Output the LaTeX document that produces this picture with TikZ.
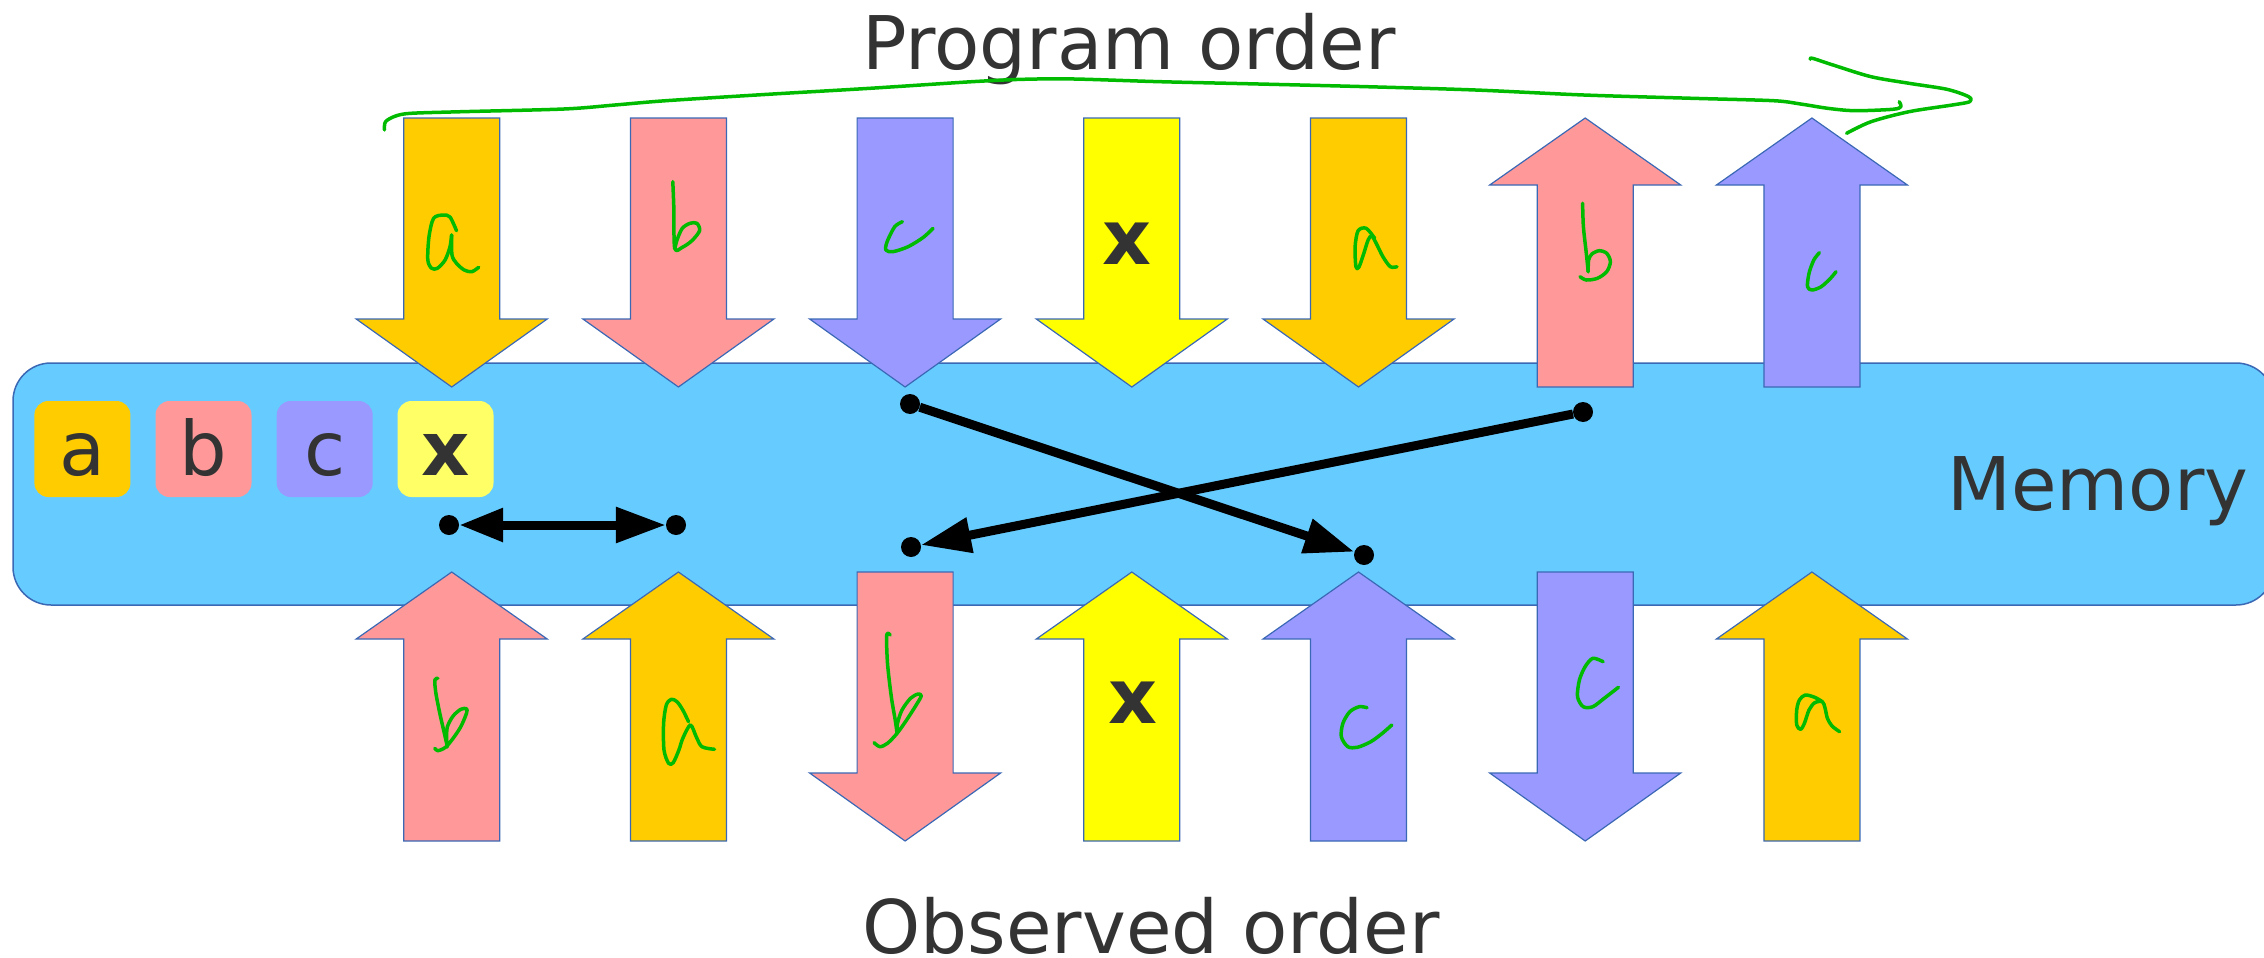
\documentclass[tikz,border=0pt]{standalone}
\usepackage{fontspec}
\setmainfont{DejaVu Sans}
\usetikzlibrary{arrows.meta}
\definecolor{ca}{HTML}{FFCC00}
\definecolor{cb}{HTML}{FF9999}
\definecolor{cc}{HTML}{9999FF}
\definecolor{cx}{HTML}{FFFF00}
\definecolor{cxl}{HTML}{FFFF66}
\definecolor{mem}{HTML}{66CCFF}
\definecolor{edge}{HTML}{3B68B5}
\definecolor{ink}{HTML}{333333}
\definecolor{pen}{HTML}{00BB00}

\begin{document}
\begin{tikzpicture}[
  x=1pt, y=-1pt,
  bigtext/.style={text=ink, font=\fontsize{74}{80}\selectfont, inner sep=0pt},
  boldx/.style={text=ink, font=\fontsize{76}{80}\selectfont\bfseries, inner sep=0pt},
  arrowbox/.style={draw=edge, line width=1.2pt, line join=miter},
  keybox/.style={minimum size=96pt, inner sep=0pt, rounded corners=14pt,
                 text=ink, font=\fontsize{75}{80}\selectfont,
                 text height=52pt, text depth=0pt},
  dot/.style={circle, fill=black, inner sep=0pt, minimum size=20pt},
  conn/.style={line width=9pt, draw=black},
  tip/.style={-{Triangle[length=50pt,width=34pt]}},
  hand/.style={draw=pen, line width=3.5pt, line cap=round, line join=round},
  downarr/.pic={\path[pic actions] (-48,0) -- (48,0) -- (48,201) -- (95.5,201)
                 -- (0,269) -- (-95.5,201) -- (-48,201) -- cycle;},
  uparr/.pic={\path[pic actions] (0,0) -- (95.5,67) -- (48,67) -- (48,269)
                 -- (-48,269) -- (-48,67) -- (-95.5,67) -- cycle;},
]
\useasboundingbox (0,0) rectangle (2264,958);
\clip (0,0) rectangle (2264,958);

% memory band
\draw[draw=edge, line width=1.5pt, fill=mem, rounded corners=38pt]
  (13,363) rectangle (2274,605);
\node[bigtext, anchor=base] (memlabel) at (2098,510) {Memory};

% legend
\node[keybox, fill=ca] (ka) at (82.4,449) {a};
\node[keybox, fill=cb] (kb) at (203.5,449) {b};
\node[keybox, fill=cc] (kc) at (324.7,449) {c};
\node[keybox, fill=cxl, font=\fontsize{75}{80}\selectfont\bfseries] (kx) at (445.5,449) {x};

% titles
\node[bigtext, anchor=base] (prog) at (1129,70) {Program order};
\node[bigtext, anchor=base] (obs) at (1151,953) {Observed order};

% program order row
\pic[arrowbox, fill=ca] at (451.7,118) {downarr};
\pic[arrowbox, fill=cb] at (678.4,118) {downarr};
\pic[arrowbox, fill=cc] at (905.1,118) {downarr};
\pic[arrowbox, fill=cx] at (1131.8,118) {downarr};
\pic[arrowbox, fill=ca] at (1358.5,118) {downarr};
\pic[arrowbox, fill=cb] at (1585.2,118) {uparr};
\pic[arrowbox, fill=cc] at (1811.9,118) {uparr};

% observed order row
\pic[arrowbox, fill=cb] at (451.7,572) {uparr};
\pic[arrowbox, fill=ca] at (678.4,572) {uparr};
\pic[arrowbox, fill=cb] at (905.1,572) {downarr};
\pic[arrowbox, fill=cx] at (1131.8,572) {uparr};
\pic[arrowbox, fill=cc] at (1358.5,572) {uparr};
\pic[arrowbox, fill=cc] at (1585.2,572) {downarr};
\pic[arrowbox, fill=ca] at (1811.9,572) {uparr};

\node[boldx, anchor=base] (xtop) at (1127,264) {x};
\node[boldx, anchor=base] (xbot) at (1133,723) {x};

% reordering links
\node[dot] (p1) at (449,525) {};
\node[dot] (p2) at (676,525) {};
\node[dot] (q1) at (910,404) {};
\node[dot] (q2) at (1364,555) {};
\node[dot] (r1) at (1583,412) {};
\node[dot] (r2) at (911,547) {};
\draw[conn, {Triangle[length=44pt,width=32pt]}-{Triangle[length=50pt,width=34pt]}] (p1) -- (p2);
\draw[conn, tip] (q1) -- (q2);
\draw[conn, tip] (r1) -- (r2);

% hand-written program order sweep
\draw[hand] plot[smooth, tension=0.5] coordinates {
  (384.5,130) (385.5,121.7) (395.7,116) (411,113.3) (462,111.7) (564,109)
  (615,105) (666,100.7) (768,94.3) (870,88.3) (972,81.7) (1023,79.3)
  (1074,79) (1160,81.7) (1258.4,84) (1366.8,86.7) (1475.3,90) (1583.7,95)
  (1692.1,98.3) (1773.4,100.7) (1800.5,104) (1827.6,108.3) (1854.7,110.7)
  (1892.7,109.3) (1900.8,106.7) (1899.2,101.7)};
\draw[hand] plot[smooth, tension=0.5] coordinates {
  (1810.3,59.3) (1812.5,58.3) (1833,65) (1871,76.7) (1909,83.3)
  (1946.9,89.3) (1968.6,96.7) (1969.7,101.7) (1952.3,105) (1909,111.7)
  (1871,121.7) (1846.6,133.3)};

% hand-written letters, program order row
\draw[hand] plot[smooth, tension=0.5] coordinates {
  (456.5,230.7) (450,217) (443.1,215) (433.6,218.3) (429,236.7) (427.8,260)
  (431.7,268.3) (437.4,268.3) (445.1,260) (450,246.7) (451.6,235)};
\draw[hand] plot[smooth, tension=0.5] coordinates {
  (451.6,235) (452,255) (456.5,263.3) (464.2,270) (471.8,271.7) (478.7,267.3)};
\draw[hand] plot[smooth, tension=0.5] coordinates {
  (672.8,181.7) (673.9,210) (674.7,248.3) (682.3,247.3) (691.9,240.7)
  (699.6,230.7) (696.9,223.3) (690,223.3) (682.3,228.3) (677,240) (674.7,249.3)};
\draw[hand] plot[smooth, tension=0.5] coordinates {
  (902.4,221.7) (894.7,226.7) (887.1,241.7) (885.9,250) (892.8,251.7)
  (908.1,246.7) (923.4,237.3) (933,228.3)};
\draw[hand] plot[smooth, tension=0.5] coordinates {
  (1374.7,238.3) (1366.2,228.3) (1358.1,230.7) (1355.1,246.7) (1355.9,266.7)
  (1358.8,267.3) (1363.3,255) (1368.1,240) (1371.8,236) (1376.2,243.3)
  (1382.9,256.7) (1390.3,266.7) (1397,266.7)};
\draw[hand] plot[smooth, tension=0.5] coordinates {
  (1582.6,203.3) (1583.4,226.7) (1586.3,253.3) (1588.2,271.7)};
\draw[hand] plot[smooth, tension=0.5] coordinates {
  (1580,276.7) (1586.3,280) (1597.4,278.3) (1606.7,271.7) (1610.4,261.7)
  (1606.7,253.3) (1599.3,250.7) (1591.9,254) (1588.6,260) (1588.2,271.7)};
\draw[hand] plot[smooth, tension=0.5] coordinates {
  (1819.4,252.7) (1813.8,260) (1809,273.3) (1807.5,286.7) (1812,290)
  (1821.2,286.7) (1830.5,278.3) (1836,271.7)};

% hand-written letters, observed order row
\draw[hand] plot[smooth, tension=0.5] coordinates {
  (437.8,678.3) (434.8,680) (435.9,693.3) (439.8,713.3) (443.6,730) (447.4,746.7)};
\draw[hand] plot[smooth, tension=0.5] coordinates {
  (434.8,748.3) (437.8,750.7) (445.5,747.3) (453.1,738.3) (460.8,726.7)
  (466.5,713.3) (466.5,708.7) (460.8,709.3) (453.1,716) (447.4,726.7)
  (446.6,738.3) (447.4,746.7)};
\draw[hand] plot[smooth, tension=0.5] coordinates {
  (688.5,721.7) (682.8,710) (677,701.7) (671.3,699.3) (666.3,705) (663.6,723.3)
  (664,750) (668.6,763.3) (673.2,762.7) (678.9,750) (682.8,738.3) (690.4,725)
  (696.2,736.7) (701.9,746.7) (714.5,749.3)};
\draw[hand] plot[smooth, tension=0.5] coordinates {
  (890.2,635) (886.7,635) (887.5,663.3) (891.3,696.7) (895.2,720) (897.1,733.3)};
\draw[hand] plot[smooth, tension=0.5] coordinates {
  (874.1,742.7) (879.9,746.7) (887.5,743.3) (897.1,733.3) (906.6,720)
  (916.2,705) (921.2,696) (918.1,694) (910.5,698.3) (902,710) (897.5,723.3)
  (897.1,733.3)};
\draw[hand] plot[smooth, tension=0.5] coordinates {
  (1367,707.7) (1359.3,706.7) (1349.8,711.7) (1342.9,723.3) (1341.3,736.7)
  (1347.8,746.7) (1357.4,747.3) (1370.8,741.7) (1382.3,733.3) (1391.8,725)};
\draw[hand] plot[smooth, tension=0.5] coordinates {
  (1603.1,661.7) (1592.8,658.3) (1585.1,666.7) (1579.4,680) (1577.5,696.7)
  (1583.2,706.7) (1592.8,706.7) (1604.2,698.3) (1618.4,687.3)};
\draw[hand] plot[smooth, tension=0.5] coordinates {
  (1822.4,701.7) (1814.7,697.3) (1805.2,695) (1799.4,700) (1796.7,710)
  (1796.7,725) (1800.6,729.3) (1804.4,723.3) (1809,710) (1814.7,702.7)
  (1822.4,701.7) (1825.1,708.3) (1827.4,718.3) (1832,726) (1839.6,731.7)};
\end{tikzpicture}
\end{document}
